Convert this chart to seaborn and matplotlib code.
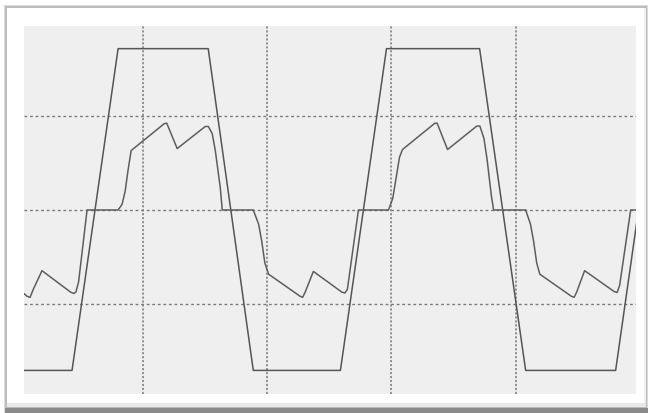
import matplotlib
matplotlib.use("Agg")
import matplotlib.pyplot as plt
from matplotlib.patches import Rectangle
import pandas as pd
import seaborn as sns

# Trapezoidal drive waveform (vertices)
trap_t = [0.040, 0.427, 0.798, 1.524, 1.887, 2.589, 2.960, 3.710, 4.081, 4.806, 4.976]
trap_v = [-1.70, -1.70, 1.71, 1.71, -1.70, -1.70, 1.71, 1.71, -1.70, -1.70, -0.13]

# Distorted response waveform (vertices)
resp_t = [0.040, 0.065, 0.089, 0.115, 0.185, 0.415, 0.440, 0.458, 0.480, 0.548,
          0.798, 0.830, 0.855, 0.878, 0.903, 1.170, 1.190, 1.274, 1.500, 1.525,
          1.556, 1.581, 1.621, 1.637, 1.887, 1.930, 1.955, 1.980, 2.010, 2.265,
          2.285, 2.305, 2.371, 2.600, 2.625, 2.645, 2.734, 2.976, 3.010, 3.040,
          3.065, 3.089, 3.350, 3.368, 3.452, 3.688, 3.712, 3.745, 3.770, 3.805,
          3.823, 4.081, 4.120, 4.145, 4.170, 4.195, 4.450, 4.472, 4.492, 4.556,
          4.795, 4.818, 4.838, 4.927, 4.968]
resp_v = [-0.885, -0.915, -0.925, -0.840, -0.643, -0.870, -0.885, -0.870, -0.760, 0.0,
          0.0, 0.060, 0.200, 0.420, 0.630, 0.915, 0.920, 0.651, 0.885, 0.885,
          0.810, 0.630, 0.238, 0.0, 0.0, -0.150, -0.330, -0.560, -0.680, -0.915,
          -0.925, -0.870, -0.651, -0.870, -0.880, -0.840, 0.0, 0.0, 0.120, 0.360,
          0.560, 0.641, 0.920, 0.920, 0.641, 0.890, 0.890, 0.760, 0.540, 0.150,
          0.0, 0.0, -0.150, -0.330, -0.560, -0.680, -0.915, -0.925, -0.870,
          -0.643, -0.865, -0.874, -0.800, 0.0, 0.0]

grid_x = [1, 2, 3, 4]
grid_y = [-1, 0, 1]

W, H = 648, 413
sns.set_style("white", {"axes.facecolor": "#efefef"})
fig = plt.figure(figsize=(W / 100, H / 100), dpi=100, facecolor="white")


def px_rect(x0, y0, x1, y1, **kw):
    """Rectangle given in pixel coordinates measured from the top-left corner."""
    fig.add_artist(Rectangle((x0 / W, 1 - y1 / H), (x1 - x0) / W, (y1 - y0) / H,
                             transform=fig.transFigure, linewidth=0, zorder=-5, **kw))


# card with soft drop shadow
px_rect(4, 5, 648, 413, facecolor="#dcdcdc")
px_rect(5, 6, 647, 413, facecolor="#bcbcbc")
px_rect(5, 408, 648, 413, facecolor="#8a8a8a")
px_rect(7, 8, 646, 403, facecolor="white")
px_rect(7, 403, 646, 407, facecolor="#e8e8e8")
px_rect(644, 8, 646, 403, facecolor="#f0f0f0")

ax = fig.add_axes([24 / W, (H - 394) / H, 612 / W, 368 / H])
ax.set_facecolor("#efefef")

for gx in grid_x:
    ax.axvline(gx, color="#8c8c8c", lw=1.3, ls=(0, (1.2, 1.0)), zorder=1)
for gy in grid_y:
    ax.axhline(gy, color="#7a7a7a", lw=1.0, ls=(0, (2.0, 2.0)), zorder=1)

trap = pd.DataFrame({"t": trap_t, "v": trap_v})
resp = pd.DataFrame({"t": resp_t, "v": resp_v})
sns.lineplot(data=trap, x="t", y="v", sort=False, ax=ax, color="#555555", lw=1.1, zorder=3)
sns.lineplot(data=resp, x="t", y="v", sort=False, ax=ax, color="#5e5e5e", lw=1.1, zorder=3)

ax.set_xlim(0.04, 4.97)
ax.set_ylim(-1.95, 1.95)
ax.set_xticks([])
ax.set_yticks([])
ax.set_xlabel("")
ax.set_ylabel("")
for s in ax.spines.values():
    s.set_visible(False)

fig.savefig("out.png", dpi=100, facecolor="white")
